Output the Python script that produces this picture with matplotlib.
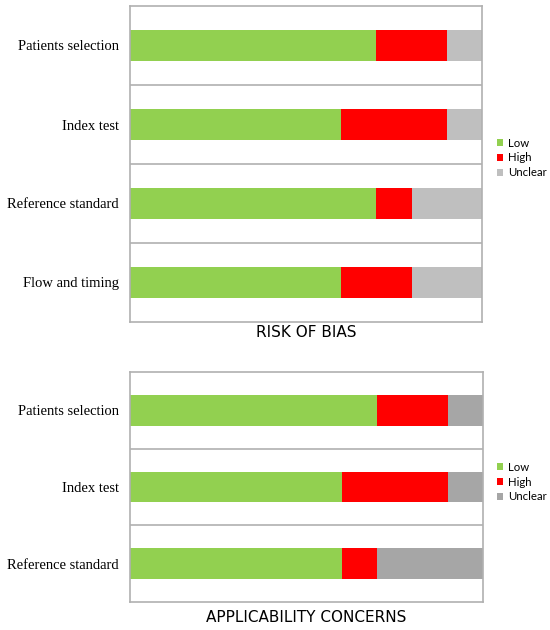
import matplotlib.pyplot as plt

# domains and percentages
bias_domains = ["Patients selection", "Index test", "Reference standard", "Flow and timing"]
bias_low = [70, 60, 70, 60]
bias_high = [20, 30, 10, 20]
bias_unclear = [10, 10, 20, 20]

appl_domains = ["Patients selection", "Index test", "Reference standard"]
appl_low = [70, 60, 60]
appl_high = [20, 30, 10]
appl_unclear = [10, 10, 30]

legend_labels = ["Low", "High", "Unclear"]

GREEN = "#92d050"
RED = "#ff0000"
GRID = "#b0b0b0"


def draw_panel(ax, domains, low, high, unclear, grey, title, leg_y, pad):
    n = len(domains)
    ypos = [n - 1 - i + 0.5 for i in range(n)]
    left_unc = [l + h for l, h in zip(low, high)]
    ax.barh(ypos, low, height=0.4, color=GREEN, label=legend_labels[0])
    ax.barh(ypos, high, left=low, height=0.4, color=RED, label=legend_labels[1])
    ax.barh(ypos, unclear, left=left_unc, height=0.4, color=grey, label=legend_labels[2])
    ax.set_xlim(0, 100)
    ax.set_ylim(0, n)
    for k in range(1, n):
        ax.axhline(k, color=GRID, lw=1.2)
    for s in ax.spines.values():
        s.set_color(GRID)
        s.set_linewidth(1.2)
    ax.set_xticks([])
    ax.set_yticks(ypos)
    ax.set_yticklabels(domains, family="Liberation Serif", fontsize=10.5)
    ax.tick_params(axis="y", length=0, pad=8)
    ax.set_xlabel(title, family="DejaVu Sans", fontsize=11, labelpad=pad)
    ax.legend(loc="center left", bbox_to_anchor=(497 / 550, leg_y),
              bbox_transform=fig.transFigure, frameon=False,
              borderaxespad=0, borderpad=0,
              prop={"family": "Lato", "size": 8.2}, handlelength=0.5,
              handleheight=0.5, handletextpad=0.5, labelspacing=0.35)


fig = plt.figure(figsize=(5.5, 6.3), dpi=100)
ax1 = fig.add_axes([130 / 550, 1 - 322 / 630, 352 / 550, 316 / 630])
ax2 = fig.add_axes([130 / 550, 1 - 602 / 630, 353 / 550, 230 / 630])

draw_panel(ax1, bias_domains, bias_low, bias_high, bias_unclear, "#bfbfbf",
           "RISK OF BIAS", 1 - 158 / 630, 2.5)
draw_panel(ax2, appl_domains, appl_low, appl_high, appl_unclear, "#a6a6a6",
           "APPLICABILITY CONCERNS", 1 - 482 / 630, 6)

plt.savefig("out.png", dpi=100)
